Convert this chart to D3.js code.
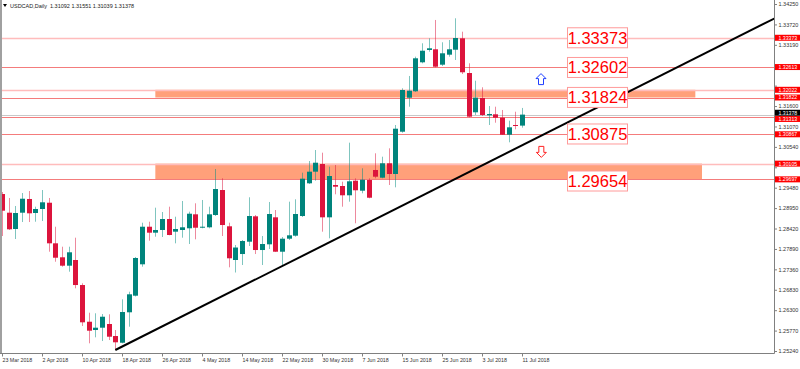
<!DOCTYPE html>
<html><head><meta charset="utf-8">
<script src="https://cdn.jsdelivr.net/npm/d3@7"></script>
<style>body{margin:0;background:#fff}svg{display:block}</style>
</head><body><svg id="c" width="800" height="369"></svg>
<script>
const openP = [1.29316,1.28831,1.28408,1.28831,1.29187,1.28823,1.28927,1.29090,1.28036,1.27673,
1.27455,1.27603,1.26953,1.26000,1.25785,1.25845,1.25941,1.25629,1.25455,1.26245,
1.26676,1.27491,1.28467,1.28312,1.28382,1.28667,1.28338,1.28382,1.28426,1.28789,
1.28441,1.28452,1.28771,1.29420,1.28478,1.27603,1.27758,1.28078,1.28737,1.27862,
1.28010,1.28711,1.27818,1.28156,1.28234,1.28745,1.29594,1.29896,1.30095,1.28711,
1.29550,1.29524,1.29283,1.29662,1.29402,1.29680,1.29940,1.29740,1.30114,1.29836,
1.30934,1.31817,1.31983,1.32736,1.33056,1.33074,1.32674,1.32934,1.33063,1.33359,
1.32458,1.31438,1.31809,1.31360,1.31386,1.31298,1.30856,1.31108,1.31092];
const highP = [1.29368,1.29213,1.29005,1.29342,1.29394,1.28987,1.29420,1.29213,1.28467,1.27948,
1.27948,1.28182,1.26998,1.26234,1.26219,1.26200,1.26193,1.25785,1.26582,1.26779,
1.27681,1.28571,1.28597,1.28961,1.28849,1.28987,1.28727,1.29135,1.28857,1.29075,
1.29161,1.28987,1.29966,1.29724,1.28571,1.27992,1.28122,1.29231,1.28771,1.28226,
1.29109,1.28901,1.28200,1.29117,1.29179,1.29870,1.30173,1.30459,1.30389,1.30025,
1.30069,1.29636,1.30649,1.29724,1.29984,1.29724,1.30373,1.30285,1.30503,1.31108,
1.32061,1.32381,1.32882,1.33230,1.33359,1.33835,1.33256,1.33315,1.33879,1.33531,
1.32710,1.32258,1.32087,1.31601,1.31583,1.31498,1.31220,1.31453,1.31551];
const lowP = [1.28226,1.28382,1.28148,1.28589,1.28589,1.28597,1.28615,1.27818,1.27558,1.27429,
1.27299,1.26868,1.25889,1.25440,1.25595,1.25499,1.25525,1.25266,1.25440,1.25871,
1.26655,1.27429,1.28104,1.28208,1.28200,1.28244,1.28036,1.28182,1.28018,1.28140,
1.28426,1.28426,1.28745,1.28226,1.27413,1.27278,1.27473,1.27966,1.27758,1.27473,
1.27888,1.27810,1.27473,1.28122,1.28208,1.28719,1.29576,1.29662,1.28338,1.28166,
1.29309,1.28987,1.29117,1.28556,1.29335,1.29205,1.29724,1.29724,1.29550,1.29490,
1.30908,1.31583,1.31965,1.32710,1.33011,1.32606,1.32640,1.32882,1.32796,1.32432,
1.31308,1.31368,1.31342,1.31108,1.31168,1.30849,1.30659,1.30996,1.31039];
const closeP = [1.28883,1.28400,1.28823,1.29194,1.28815,1.28927,1.29101,1.28036,1.27662,1.27455,
1.27803,1.26953,1.25985,1.25767,1.25845,1.26130,1.25611,1.25466,1.26252,1.26712,
1.27655,1.28467,1.28312,1.28382,1.28667,1.28252,1.28408,1.28452,1.28805,1.28441,
1.28467,1.28789,1.29446,1.28511,1.27647,1.27927,1.28096,1.28745,1.27862,1.28018,
1.28797,1.27818,1.28156,1.28244,1.28797,1.29714,1.29896,1.30129,1.28711,1.29784,
1.29506,1.29283,1.29646,1.29413,1.29688,1.29220,1.29766,1.30114,1.29836,1.31012,
1.32017,1.31999,1.32840,1.33037,1.33100,1.32622,1.32970,1.33074,1.33367,1.32477,
1.31324,1.31817,1.31368,1.31394,1.31298,1.30856,1.31048,1.31090,1.31378];

const dateIdx = [0,6,12,18,24,30,36,42,48,54,60,66,72,78];
const dateLabels = ["23 Mar 2018","2 Apr 2018","10 Apr 2018","18 Apr 2018","26 Apr 2018","4 May 2018","14 May 2018","22 May 2018","30 May 2018","7 Jun 2018","15 Jun 2018","25 Jun 2018","3 Jul 2018","11 Jul 2018"];
const priceTicks = [1.34250,1.33720,1.33190,1.32660,1.32130,1.31600,1.31070,1.30540,1.30010,1.29480,1.28950,1.28420,1.27890,1.27360,1.26830,1.26300,1.25770,1.25240];

const redLevels = [1.32613,1.31822,1.31313,1.30867,1.29697];
const pinkLevels = [1.33373,1.32022,1.30105];
const zoneTop = [1.32022,1.30105];
const zoneBottom = [1.31822,1.29697];
const zoneStart = [23,23];
const zoneEnd = [104,105];
const boxLabels = ["1.33373","1.32602","1.31824","1.30875","1.29654"];
const trendBars = [17,116];
const trendPrices = [1.25266,1.33886];
const upArrow = [80.85,1.3230];
const downArrow = [80.9,1.3041];
const title = "USDCAD,Daily  1.31092 1.31551 1.31039 1.31378";

const svg = d3.select("#c");
const R = 774.5, B = 353;
const x = d3.scaleLinear().domain([0,78]).range([2,522]);
const y = d3.scaleLinear().domain([1.25240,1.34250]).range([351,4]);
const font = "'Liberation Sans', Arial, sans-serif";

svg.append("rect").attr("width",800).attr("height",369).attr("fill","#fff");
svg.append("defs").append("clipPath").attr("id","clip").append("rect")
  .attr("x",0).attr("y",0).attr("width",R).attr("height",B);
const plot = svg.append("g").attr("clip-path","url(#clip)");

// zones
plot.selectAll("rect.zone").data(zoneTop).join("rect").attr("class","zone")
  .attr("x",(d,i)=>x(zoneStart[i])).attr("width",(d,i)=>x(zoneEnd[i])-x(zoneStart[i]))
  .attr("y",d=>y(d)).attr("height",(d,i)=>y(zoneBottom[i])-y(d))
  .attr("fill","#ffa07a");

// level lines
plot.selectAll("line.pink").data(pinkLevels).join("line")
  .attr("x1",0).attr("x2",R).attr("y1",d=>Math.round(y(d))+0.5).attr("y2",d=>Math.round(y(d))+0.5)
  .attr("stroke","#ffbcbc").attr("stroke-width",1.5);
plot.selectAll("line.red").data(redLevels).join("line")
  .attr("x1",0).attr("x2",R).attr("y1",d=>Math.round(y(d))+0.5).attr("y2",d=>Math.round(y(d))+0.5)
  .attr("stroke","#f47c7c").attr("stroke-width",1);
const last = closeP[closeP.length-1];
plot.append("line").attr("x1",0).attr("x2",R)
  .attr("y1",Math.round(y(last))+0.5).attr("y2",Math.round(y(last))+0.5)
  .attr("stroke","#c8c8c8").attr("stroke-width",1);

// candles
const idx = d3.range(openP.length);
const bull = i => closeP[i] >= openP[i];
const cg = plot.append("g");
cg.selectAll("line").data(idx).join("line")
  .attr("x1",i=>Math.round(x(i))+0.5).attr("x2",i=>Math.round(x(i))+0.5)
  .attr("y1",i=>y(highP[i])).attr("y2",i=>y(lowP[i]))
  .attr("stroke",i=>bull(i)?"#008b80":"#dc143c").attr("stroke-opacity",0.5).attr("stroke-width",1);
cg.selectAll("rect").data(idx).join("rect")
  .attr("x",i=>Math.round(x(i))+0.5-2.5).attr("width",5)
  .attr("y",i=>y(Math.max(openP[i],closeP[i])))
  .attr("height",i=>Math.max(1,Math.abs(y(openP[i])-y(closeP[i]))))
  .attr("fill",i=>bull(i)?"#00847c":"#dc143c");

// trendline
plot.append("line")
  .attr("x1",x(trendBars[0])).attr("y1",y(trendPrices[0]))
  .attr("x2",x(trendBars[1])).attr("y2",y(trendPrices[1]))
  .attr("stroke","#000").attr("stroke-width",2);

// boxes
const bx = 567.5, bw = 60;
const bg = svg.append("g");
bg.selectAll("rect").data(boxLabels).join("rect")
  .attr("x",bx).attr("width",bw).attr("y",d=>y(+d)-10).attr("height",20)
  .attr("fill","#fff").attr("stroke","#ff9a9a").attr("stroke-width",1);
bg.selectAll("text").data(boxLabels).join("text")
  .attr("x",bx+bw/2).attr("y",d=>y(+d)+6).attr("text-anchor","middle")
  .attr("font-family",font).attr("font-size",16.5).attr("fill","#ff0000").text(d=>d);

// arrows
function arrowPts(cx,cy,dir){
  const p=[[0,-5.5],[5,-0.5],[2.5,-0.5],[2.5,5.5],[-2.5,5.5],[-2.5,-0.5],[-5,-0.5]];
  return p.map(([a,b])=>[cx+a,cy+dir*b].join(",")).join(" ");
}
svg.append("polygon").attr("points",arrowPts(x(upArrow[0]),y(upArrow[1]),1))
  .attr("fill","#fff").attr("stroke","#1f3fff").attr("stroke-width",1);
svg.append("polygon").attr("points",arrowPts(x(downArrow[0]),y(downArrow[1]),-1))
  .attr("fill","#fff").attr("stroke","#ff2020").attr("stroke-width",1);

// borders
svg.append("line").attr("x1",1).attr("x2",1).attr("y1",0).attr("y2",B).attr("stroke","#a0a0a0").attr("stroke-width",2);
svg.append("line").attr("x1",R).attr("x2",R).attr("y1",0).attr("y2",B+0.5).attr("stroke","#808080").attr("stroke-width",1);
svg.append("line").attr("x1",0).attr("x2",R).attr("y1",B+0.5).attr("y2",B+0.5).attr("stroke","#808080").attr("stroke-width",1);

// bottom axis
const ax = svg.append("g").attr("transform",`translate(0,${B+0.5})`)
  .call(d3.axisBottom(x).tickValues(dateIdx).tickFormat((d,i)=>dateLabels[i]).tickSize(3));
ax.select(".domain").remove();
ax.selectAll("line").attr("stroke","#808080");
ax.selectAll("text").attr("text-anchor","start").attr("dx",0).attr("y",5).attr("dy","0.71em")
  .attr("font-family",font).attr("font-size",5.3).attr("fill","#333");

// price tags (positions resolved so they do not collide)
const tags = redLevels.concat(pinkLevels).map(v=>({v, fill:"#ff0000"}));
tags.push({v:last, fill:"#000"});
tags.forEach(t=>t.py=y(t.v));
tags.sort((a,b)=>a.py-b.py);
const gap = 6.2;
for(let k=1;k<tags.length;k++){
  if(tags[k].py-tags[k-1].py<gap){
    const mid=(tags[k].py+tags[k-1].py)/2;
    tags[k-1].py=mid-gap/2; tags[k].py=mid+gap/2;
  }
}

// right axis (tick labels hidden where a tag covers them)
const covered = d => tags.some(t=>Math.abs(t.py-y(d))<4.5);
const ay = svg.append("g").attr("transform",`translate(${R},0)`)
  .call(d3.axisRight(y).tickValues(priceTicks).tickFormat(d3.format(".5f")).tickSize(2.5));
ay.select(".domain").remove();
ay.selectAll("line").attr("stroke","#808080");
ay.selectAll("text").attr("x",4).attr("font-family",font).attr("font-size",5.5).attr("fill","#333")
  .style("display",d=>covered(d)?"none":null);

const tg = svg.append("g");
tg.selectAll("rect").data(tags).join("rect")
  .attr("x",R+0.5).attr("width",25).attr("y",t=>t.py-3).attr("height",6).attr("fill",t=>t.fill);
tg.selectAll("text").data(tags).join("text")
  .attr("x",R+4).attr("y",t=>t.py+1.9).attr("font-family",font).attr("font-size",5.2).attr("fill","#fff")
  .text(t=>d3.format(".5f")(t.v));

// title
svg.append("polygon").attr("points","3,4 7,4 5,7").attr("fill","#000");
svg.append("text").attr("x",10).attr("y",8).attr("font-family",font).attr("font-size",5.5)
  .attr("fill","#222").attr("xml:space","preserve").style("white-space","pre").text(title);
</script></body></html>
